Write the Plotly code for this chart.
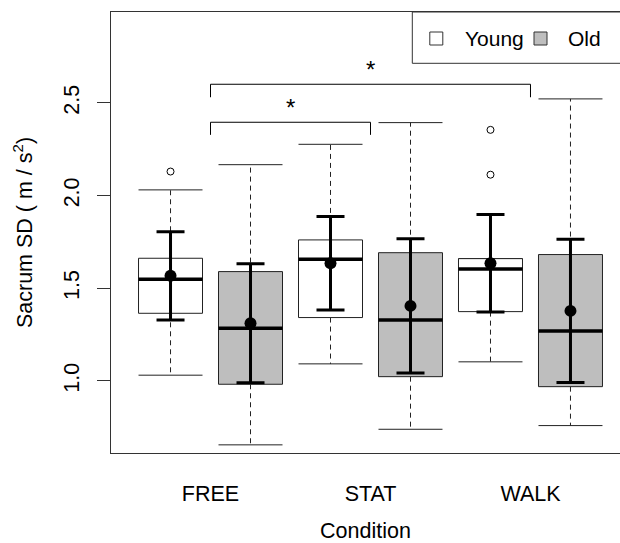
import plotly.graph_objects as go

# ---------------- data ----------------
conditions = ["FREE", "STAT", "WALK"]
groups = ["Young", "Old"]

# boxes in order: FREE-Young, FREE-Old, STAT-Young, STAT-Old, WALK-Young, WALK-Old
box_lower_whisker = [1.031, 0.655, 1.092, 0.739, 1.103, 0.759]
box_q1 = [1.365, 0.982, 1.342, 1.023, 1.374, 0.969]
box_median = [1.549, 1.284, 1.657, 1.329, 1.604, 1.270]
box_q3 = [1.662, 1.590, 1.761, 1.692, 1.660, 1.682]
box_upper_whisker = [2.031, 2.167, 2.277, 2.394, 1.660, 2.522]
box_outliers = [[2.130], [], [], [], [2.355, 2.113], []]

group_means = [1.567, 1.311, 1.635, 1.405, 1.635, 1.378]
group_sds = [0.238, 0.321, 0.252, 0.362, 0.263, 0.386]

sig_pairs = [("FREE", "STAT"), ("FREE", "WALK")]
sig_heights = [2.396, 2.601]
sig_tick_bottoms = [2.328, 2.531]
sig_star_y = [2.473, 2.683]
sig_labels = ["*", "*"]

y_tick_values = [1.0, 1.5, 2.0, 2.5]

# ---------------- style ----------------
fills = {"Young": "white", "Old": "#bebebe"}
half_box = 0.4
half_err_cap_px = 14
line_col = "#222222"
font_family = "Liberation Sans, Arial, Helvetica, sans-serif"

box_positions = []
box_groups = []
for ci, c in enumerate(conditions):
    for gi, g in enumerate(groups):
        box_positions.append(2 * ci + gi + 1)
        box_groups.append(g)
cond_center = {c: 2 * ci + 1.5 for ci, c in enumerate(conditions)}

fig = go.Figure()
shapes = []

for i, p in enumerate(box_positions):
    # whiskers (dashed)
    shapes.append(dict(type="line", xref="x", yref="y", x0=p, x1=p,
                       y0=box_q3[i], y1=box_upper_whisker[i],
                       line=dict(color=line_col, width=1, dash="5px,4px"), layer="below"))
    shapes.append(dict(type="line", xref="x", yref="y", x0=p, x1=p,
                       y0=box_q1[i], y1=box_lower_whisker[i],
                       line=dict(color=line_col, width=1, dash="5px,4px"), layer="below"))
    # staples
    for yv in (box_upper_whisker[i], box_lower_whisker[i]):
        shapes.append(dict(type="line", xref="x", yref="y", x0=p - half_box, x1=p + half_box,
                           y0=yv, y1=yv, line=dict(color=line_col, width=1), layer="below"))
    # box
    shapes.append(dict(type="rect", xref="x", yref="y", x0=p - half_box, x1=p + half_box,
                       y0=box_q1[i], y1=box_q3[i], fillcolor=fills[box_groups[i]],
                       line=dict(color=line_col, width=1), layer="below"))
    # median
    shapes.append(dict(type="line", xref="x", yref="y", x0=p - half_box, x1=p + half_box,
                       y0=box_median[i], y1=box_median[i],
                       line=dict(color="black", width=3.5), layer="below"))

# significance brackets
for (a, b), h, tb in zip(sig_pairs, sig_heights, sig_tick_bottoms):
    xa, xb = cond_center[a], cond_center[b]
    shapes.append(dict(type="line", xref="x", yref="y", x0=xa, x1=xb, y0=h, y1=h,
                       line=dict(color="black", width=1)))
    for xv in (xa, xb):
        shapes.append(dict(type="line", xref="x", yref="y", x0=xv, x1=xv, y0=h, y1=tb,
                           line=dict(color="black", width=1)))

annotations = []
for (a, b), sy, lab in zip(sig_pairs, sig_star_y, sig_labels):
    annotations.append(dict(x=(cond_center[a] + cond_center[b]) / 2, y=sy, xref="x", yref="y",
                            text=lab, showarrow=False, font=dict(size=24, color="black"),
                            xanchor="center", yanchor="middle"))

# outliers
ox, oy = [], []
for p, outs in zip(box_positions, box_outliers):
    for v in outs:
        ox.append(p)
        oy.append(v)
fig.add_trace(go.Scatter(x=ox, y=oy, mode="markers", showlegend=False, hoverinfo="skip",
                         marker=dict(symbol="circle-open", size=7, color="black",
                                     line=dict(width=1, color="black"))))

# mean +- sd
fig.add_trace(go.Scatter(x=box_positions, y=group_means, mode="markers", showlegend=False,
                         marker=dict(symbol="circle", size=12, color="black"),
                         error_y=dict(type="data", array=group_sds, visible=True,
                                      color="black", thickness=3, width=half_err_cap_px)))

# ---------------- legend (boxed, top right, horizontal) ----------------
PLOT_L, PLOT_R, PLOT_T, PLOT_B = 111, 620, 12, 453  # plot area in screen px


def px(xs):
    return (xs - PLOT_L) / (PLOT_R - PLOT_L)


def py(ys):
    return (PLOT_B - ys) / (PLOT_B - PLOT_T)


shapes.append(dict(type="rect", xref="paper", yref="paper", x0=px(412.3), x1=1.06,
                   y0=py(63.3), y1=1.0, fillcolor="white", line=dict(color="#333333", width=1)))
legend_square_centers = [436.3, 540.5]
legend_text_left = [463.3, 565.7]
for g, sc, tl in zip(groups, legend_square_centers, legend_text_left):
    shapes.append(dict(type="rect", xref="paper", yref="paper", x0=px(sc - 6.5), x1=px(sc + 6.5),
                       y0=py(45), y1=py(32), fillcolor=fills[g],
                       line=dict(color="#333333", width=1)))
    annotations.append(dict(x=px(tl), y=py(38.3), xref="paper", yref="paper", text=g,
                            showarrow=False, xanchor="left", yanchor="middle",
                            font=dict(size=21, color="black")))

fig.update_layout(
    width=620, height=543,
    margin=dict(l=PLOT_L, r=620 - PLOT_R, t=PLOT_T, b=543 - PLOT_B, pad=0),
    plot_bgcolor="white", paper_bgcolor="white",
    font=dict(family=font_family, size=21.5, color="black"),
    shapes=shapes, annotations=annotations,
    showlegend=False,
    xaxis=dict(range=[0.256, 6.619], tickmode="array", tickvals=[cond_center[c] for c in conditions],
               ticktext=conditions, ticks="", showgrid=False, zeroline=False,
               showline=True, mirror=True, linecolor="#333333", linewidth=1,
               ticklabelstandoff=21,
               title=dict(text="Condition", standoff=22, font=dict(size=21.5))),
    yaxis=dict(range=[0.611, 2.991], tickmode="array", tickvals=y_tick_values, tickformat=".1f",
               ticks="outside", ticklen=13, tickcolor="#333333", tickangle=-90,
               showgrid=False, zeroline=False, showline=True, linecolor="#333333", linewidth=1,
               ticklabelstandoff=9,
               title=dict(text="Sacrum SD ( m / s<sup>2</sup>)", standoff=21, font=dict(size=21.5))),
)

fig.write_html("out.html", config={"displayModeBar": False},
               post_script="document.body.style.margin='0';document.body.style.overflow='hidden';")
